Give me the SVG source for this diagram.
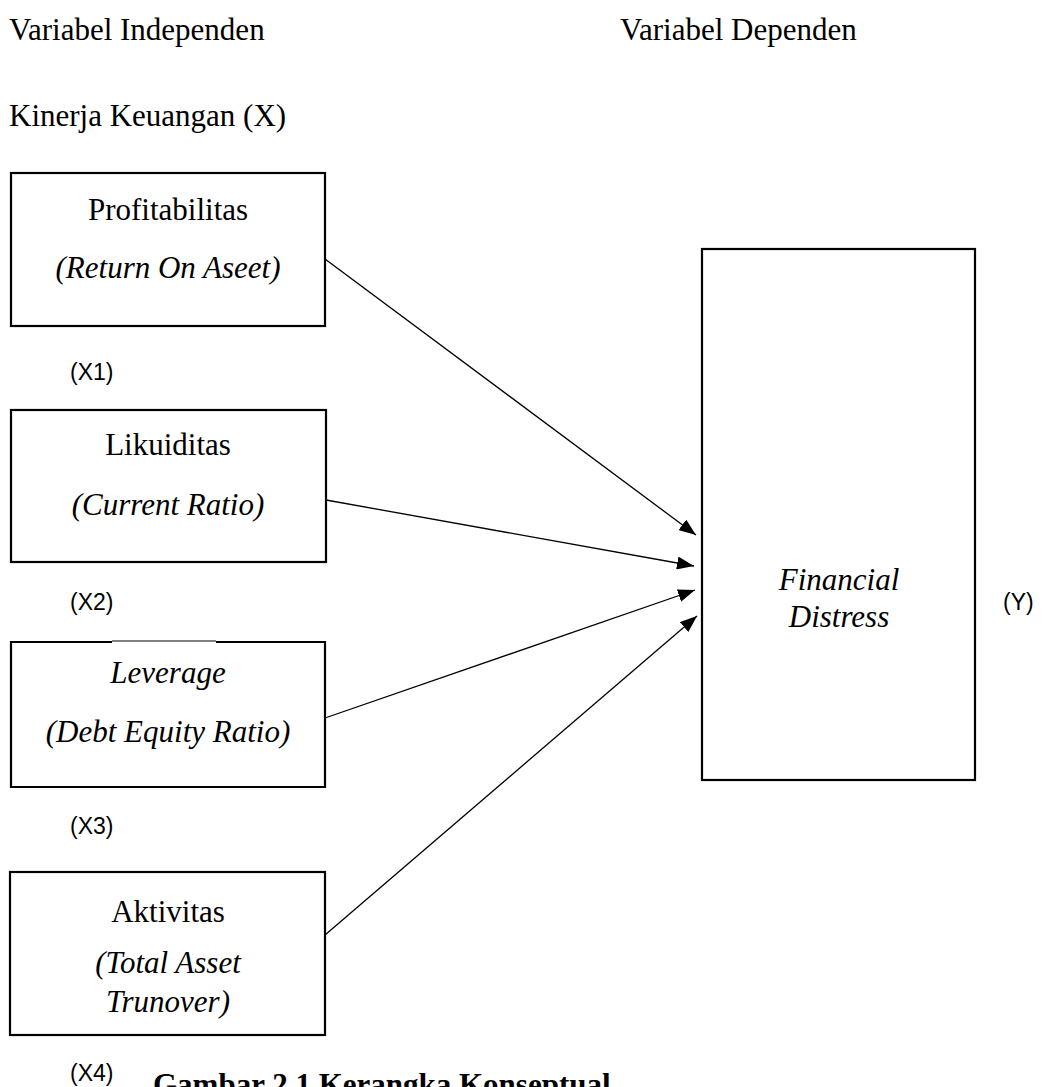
<svg xmlns="http://www.w3.org/2000/svg" width="1047" height="1087" viewBox="0 0 1047 1087">
<style>
.serif{font-family:"Liberation Serif","Times New Roman",serif;font-size:31px;fill:#000}
.it{font-style:italic}
.sans{font-family:"Liberation Sans",Arial,sans-serif;font-size:23px;fill:#000}
.box{fill:#fff;stroke:#000;stroke-width:2.2}
.conn{stroke:#000;stroke-width:1.3;fill:none}
</style>
<defs>
<marker id="arr" viewBox="0 0 17 13" refX="17" refY="6.5" markerWidth="17" markerHeight="13" markerUnits="userSpaceOnUse" orient="auto">
<path d="M0,0 L17,6.5 L0,13 z" fill="#000"/>
</marker>
</defs>
<rect width="1047" height="1087" fill="#fff"/>
<text class="serif" x="9" y="40" font-size="33">Variabel Independen</text>
<text class="serif" x="620" y="40" font-size="33">Variabel Dependen</text>
<text class="serif" x="9" y="126" font-size="30">Kinerja Keuangan (X)</text>

<g id="node-x1">
<rect class="box" x="11" y="173" width="314" height="153"/>
<text class="serif" x="168" y="220" text-anchor="middle">Profitabilitas</text>
<text class="serif it" x="168" y="278" text-anchor="middle">(Return On Aseet)</text>
<text class="sans" x="70" y="380">(X1)</text>
</g>
<g id="node-x2">
<rect class="box" x="11" y="410" width="315" height="152"/>
<text class="serif" x="168" y="455" text-anchor="middle">Likuiditas</text>
<text class="serif it" x="168" y="515" text-anchor="middle">(Current Ratio)</text>
<text class="sans" x="70" y="610">(X2)</text>
</g>
<g id="node-x3">
<path class="box" d="M112,642 L11,642 L11,787 L325,787 L325,642 L216,642"/>
<line x1="112" y1="641" x2="216" y2="641" stroke="#000" stroke-width="1"/>
<text class="serif it" x="168" y="683" text-anchor="middle">Leverage</text>
<text class="serif it" x="168" y="742" text-anchor="middle">(Debt Equity Ratio)</text>
<text class="sans" x="70" y="834">(X3)</text>
</g>
<g id="node-x4">
<rect class="box" x="10" y="872" width="315" height="163"/>
<text class="serif" x="168" y="922" text-anchor="middle">Aktivitas</text>
<text class="serif it" x="168" y="973" text-anchor="middle">(Total Asset</text>
<text class="serif it" x="168" y="1012" text-anchor="middle">Trunover)</text>
<text class="sans" x="70" y="1081">(X4)</text>
</g>
<g id="node-y">
<rect class="box" x="702" y="249" width="273" height="531"/>
<text class="serif it" x="839" y="590" text-anchor="middle" font-size="30">Financial</text>
<text class="serif it" x="839" y="627" text-anchor="middle" font-size="30">Distress</text>
<text class="sans" x="1003" y="610">(Y)</text>
</g>

<g id="connectors">
<line class="conn" x1="325" y1="259" x2="696" y2="535" marker-end="url(#arr)"/>
<line class="conn" x1="326" y1="500" x2="694" y2="566" marker-end="url(#arr)"/>
<line class="conn" x1="325" y1="718" x2="695" y2="590" marker-end="url(#arr)"/>
<line class="conn" x1="325" y1="935" x2="697" y2="616" marker-end="url(#arr)"/>
</g>

<text class="serif" x="153" y="1095" font-size="26" font-weight="bold">Gambar 2.1 Kerangka Konseptual</text>
</svg>
